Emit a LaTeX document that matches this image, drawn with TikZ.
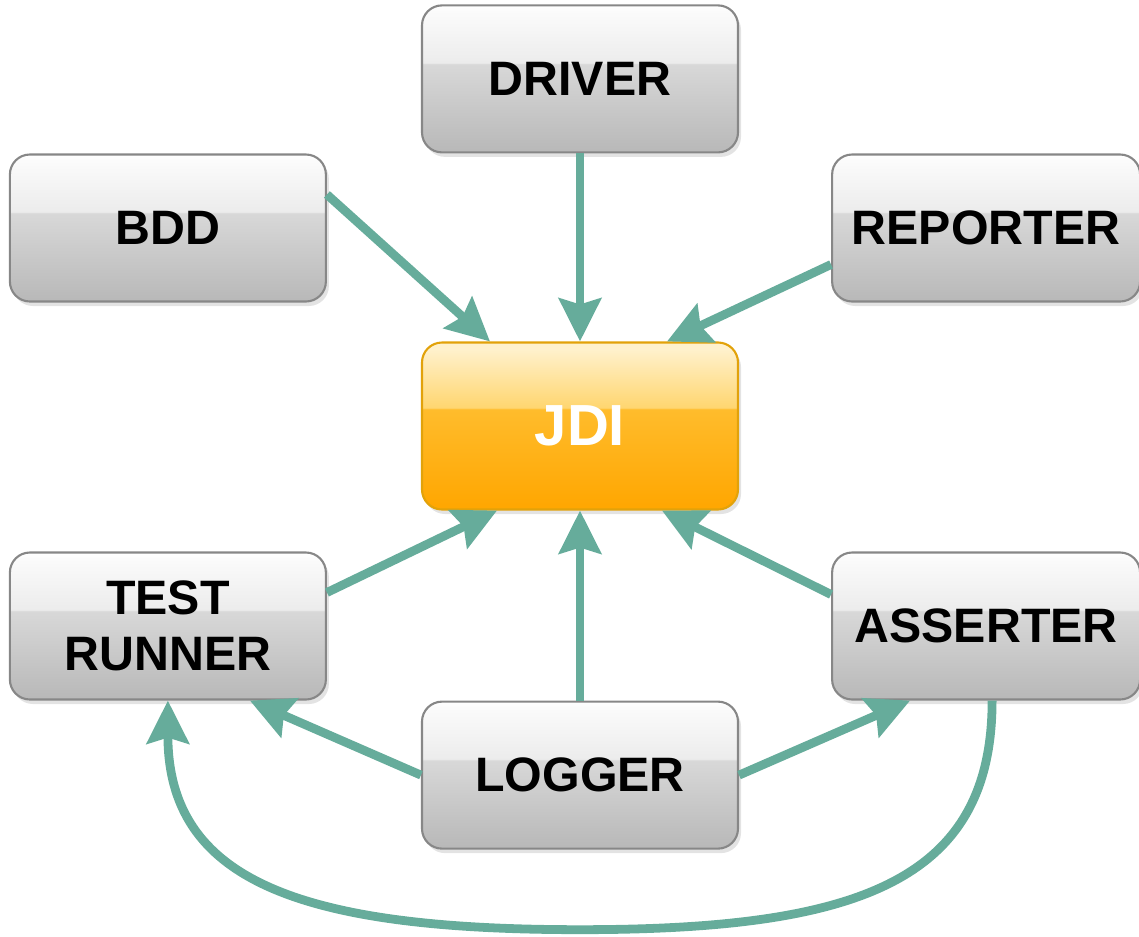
\documentclass[tikz,border=0pt]{standalone}
\usepackage{fontspec}
\setmainfont{Liberation Sans}
\usepackage{tikz}
\usetikzlibrary{positioning,shapes,arrows.meta,shadows}
\definecolor{linkgreen}{RGB}{102,172,155}
\definecolor{boxline}{RGB}{135,135,135}
\definecolor{coreline}{RGB}{226,162,10}
\definecolor{gA}{RGB}{184,184,184}
\definecolor{gB}{RGB}{216,216,216}
\definecolor{gC}{RGB}{236,236,236}
\definecolor{gD}{RGB}{251,251,251}
\definecolor{oA}{RGB}{255,166,0}
\definecolor{oB}{RGB}{255,188,44}
\definecolor{oC}{RGB}{255,214,112}
\definecolor{oD}{RGB}{255,241,204}
\pgfdeclareverticalshading{glossgray}{100bp}{color(0bp)=(gA); color(25bp)=(gA); color(55bp)=(gB); color(55.5bp)=(gC); color(73bp)=(gD); color(75bp)=(white); color(100bp)=(white)}
\pgfdeclareverticalshading{glossorange}{100bp}{color(0bp)=(oA); color(25bp)=(oA); color(55bp)=(oB); color(55.5bp)=(oC); color(73bp)=(oD); color(75bp)=(oD); color(100bp)=(oD)}
\tikzstyle{box}=[%
      rectangle, rounded corners=0.4cm, draw=boxline, line width=1.2pt,
      shade, shading=glossgray,
      drop shadow={opacity=0.22, shadow xshift=0.06cm, shadow yshift=-0.09cm},
      minimum width=6.32cm, minimum height=2.94cm, inner sep=4pt, align=center,
      font=\fontsize{27.5}{32}\selectfont\bfseries
]
\tikzstyle{side}=[minimum width=6.16cm]
\tikzstyle{core}=[%
      box, draw=coreline, shading=glossorange, text=white, minimum height=3.34cm,
      font=\fontsize{33}{38}\selectfont\bfseries
]
\tikzstyle{link}=[%
      draw=linkgreen, line width=5pt,
      -{Stealth[length=0.86cm, width=0.84cm, inset=0.12cm]}
]
\begin{document}
\begin{tikzpicture}[auto]
    \useasboundingbox (-11.6,-10.2) rectangle (11.18,8.52);

    \node[core]      (jdi)      at (0,0)                            {JDI};
    \node[box]       (driver)   [above=3.76cm of jdi]               {DRIVER};
    \node[box]       (logger)   [below=3.8cm of jdi]                {LOGGER};
    \node[box]       (bdd)      [below left=0cm and 1.88cm of driver]  {BDD};
    \node[box, side] (reporter) [below right=0cm and 1.84cm of driver] {REPORTER};
    \node[box]       (runner)   [above left=0cm and 1.88cm of logger]  {TEST\\RUNNER};
    \node[box, side] (asserter) [above right=0cm and 1.84cm of logger] {ASSERTER};
    \coordinate[below=1.6cm of logger] (loop);

    % into JDI
    \draw[link] ([yshift=0.67cm]bdd.east) -- ([xshift=-1.8cm]jdi.north);
    \draw[link] (driver) -- (jdi);
    \draw[link] ([yshift=-0.73cm]reporter.west) -- ([xshift=1.74cm]jdi.north);
    \draw[link] ([yshift=0.67cm]runner.east) -- ([xshift=-1.66cm]jdi.south);
    \draw[link] (logger) -- (jdi);
    \draw[link] ([yshift=0.63cm]asserter.west) -- ([xshift=1.64cm]jdi.south);

    % logger fan out
    \draw[link] (logger.west) -- ([xshift=1.64cm]runner.south);
    \draw[link] (logger.east) -- ([xshift=-1.52cm]asserter.south);

    \draw[link] ([xshift=0.12cm]asserter.south) .. controls +(0,-3.6) and +(5.6,0) .. (loop)
                .. controls +(-5.6,0) and +(0,-3.6) .. (runner.south);
\end{tikzpicture}
\end{document}
